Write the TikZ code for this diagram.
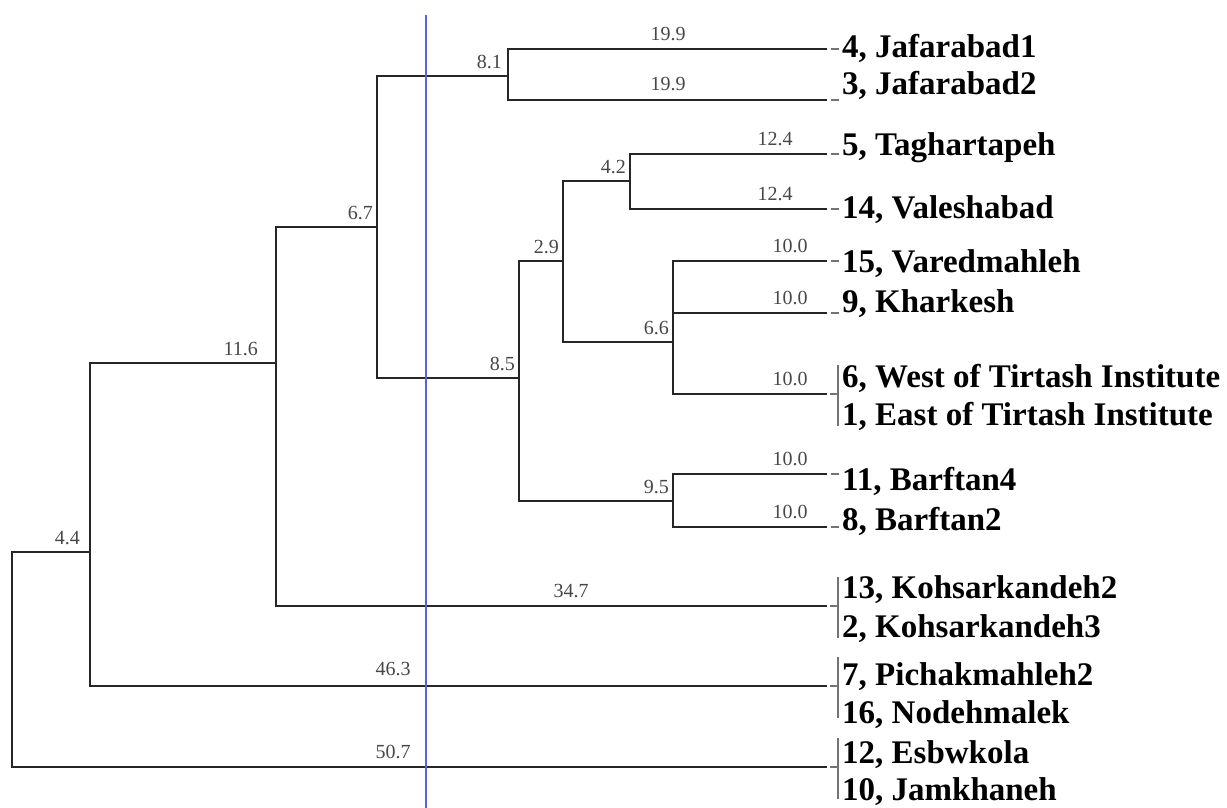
\documentclass[tikz,border=0pt]{standalone}
\usepackage{fontspec}
\setmainfont{Liberation Serif}
\definecolor{vline}{RGB}{95,95,225}
\tikzset{
  br/.style={draw=black!85, line width=1.5pt},
  bl/.style={font=\fontsize{20}{20}\selectfont, text=black!72, inner sep=0pt},
  nl/.style={bl, anchor=south east, xshift=-4pt, yshift=7pt},
  leaf/.style={font=\bfseries\fontsize{33}{33}\selectfont, anchor=base west, inner sep=0pt},
  tick/.style={draw=black!55, line width=1.3pt},
}
\begin{document}
\begin{tikzpicture}[x=1pt,y=-1pt]
\useasboundingbox (0,0) rectangle (1227,808);
% internal nodes
\coordinate (R) at (12,552);
\coordinate (A) at (90,552);
\coordinate (B) at (276,363);
\coordinate (C) at (377,227);
\coordinate (D) at (508,76);
\coordinate (E) at (519,378);
\coordinate (F) at (563,261);
\coordinate (G) at (673,501);
\coordinate (H) at (630,181);
\coordinate (I) at (673,342);
% leaves
\coordinate (l4) at (827,49);
\coordinate (l3) at (827,100);
\coordinate (l5) at (827,154);
\coordinate (l14) at (827,209);
\coordinate (l15) at (827,261);
\coordinate (l9) at (827,313);
\coordinate (l61) at (827,394);
\coordinate (l11) at (827,474);
\coordinate (l8) at (827,527);
\coordinate (l132) at (827,606);
\coordinate (l716) at (827,686);
\coordinate (l1210) at (827,767);
% tree
\draw[br] (A) -| (R) |- (l1210);
\draw[br] (B) -| (A) |- (l716);
\draw[br] (C) -| (B) |- (l132);
\draw[br] (D) -| (C) |- (E);
\draw[br] (l4) -| (D) |- (l3);
\draw[br] (F) -| (E) |- (G);
\draw[br] (H) -| (F) |- (I);
\draw[br] (l5) -| (H) |- (l14);
\draw[br] (l15) -| (I) |- (l61);
\draw[br] (I |- l9) -- (l9);
\draw[br] (l11) -| (G) |- (l8);
% leaf end ticks
\foreach \l in {l4,l3,l5,l14,l15,l9,l11,l8}
  \draw[tick] ([xshift=4pt]\l) -- ++(8,0);
\foreach \l in {l61,l132,l716,l1210}{
  \draw[tick] ([xshift=3pt]\l) -- ++(7,0);
  \draw[tick] ([xshift=11pt,yshift=29pt]\l) -- ([xshift=11pt,yshift=-32pt]\l);
}
% blue line
\coordinate (vt) at (426,15);
\coordinate (vb) at (426,808);
\draw[vline, line width=1.6pt] (vt) -- (vb);
% internal node labels
\node[nl] (t44) at (A) [xshift=-6pt] {4.4};
\node[nl] (t116) at (B) [xshift=-14pt] {11.6};
\node[nl] (t67) at (C) {6.7};
\node[nl] (t81) at (D) [xshift=-2pt] {8.1};
\node[nl] (t85) at (E) {8.5};
\node[nl] (t29) at (F) {2.9};
\node[nl] (t42) at (H) {4.2};
\node[nl] (t66) at (I) {6.6};
\node[nl] (t95) at (G) {9.5};
% branch length labels
\node[bl, anchor=base] (b4) at (668,41) {19.9};
\node[bl, anchor=base] (b3) at (668,91) {19.9};
\node[bl, anchor=base] (b5) at (775,145) {12.4};
\node[bl, anchor=base] (b14) at (775,200) {12.4};
\node[bl, anchor=base] (b15) at (790,252) {10.0};
\node[bl, anchor=base] (b9) at (790,304) {10.0};
\node[bl, anchor=base] (b61) at (790,385) {10.0};
\node[bl, anchor=base] (b11) at (790,465) {10.0};
\node[bl, anchor=base] (b8) at (790,518) {10.0};
\node[bl, anchor=base] (b132) at (571,597) {34.7};
\node[bl, anchor=base] (b716) at (393,675) {46.3};
\node[bl, anchor=base] (b1210) at (393,758) {50.7};
% leaf labels
\node[leaf] (n4) at (842,58) {4, Jafarabad1};
\node[leaf] (n3) at (842,95) {3, Jafarabad2};
\node[leaf] (n5) at (842,155) {5, Taghartapeh};
\node[leaf] (n14) at (842,218) {14, Valeshabad};
\node[leaf] (n15) at (842,272) {15, Varedmahleh};
\node[leaf] (n9) at (842,312) {9, Kharkesh};
\node[leaf] (n6) at (842,387) {6, West of Tirtash Institute};
\node[leaf] (n1) at (842,425) {1, East of Tirtash Institute};
\node[leaf] (n11) at (842,490) {11, Barftan4};
\node[leaf] (n8) at (842,530) {8, Barftan2};
\node[leaf] (n13) at (842,598) {13, Kohsarkandeh2};
\node[leaf] (n2) at (842,637) {2, Kohsarkandeh3};
\node[leaf] (n7) at (842,685) {7, Pichakmahleh2};
\node[leaf] (n16) at (842,723) {16, Nodehmalek};
\node[leaf] (n12) at (842,763) {12, Esbwkola};
\node[leaf] (n10) at (842,800) {10, Jamkhaneh};
\end{tikzpicture}
\end{document}
